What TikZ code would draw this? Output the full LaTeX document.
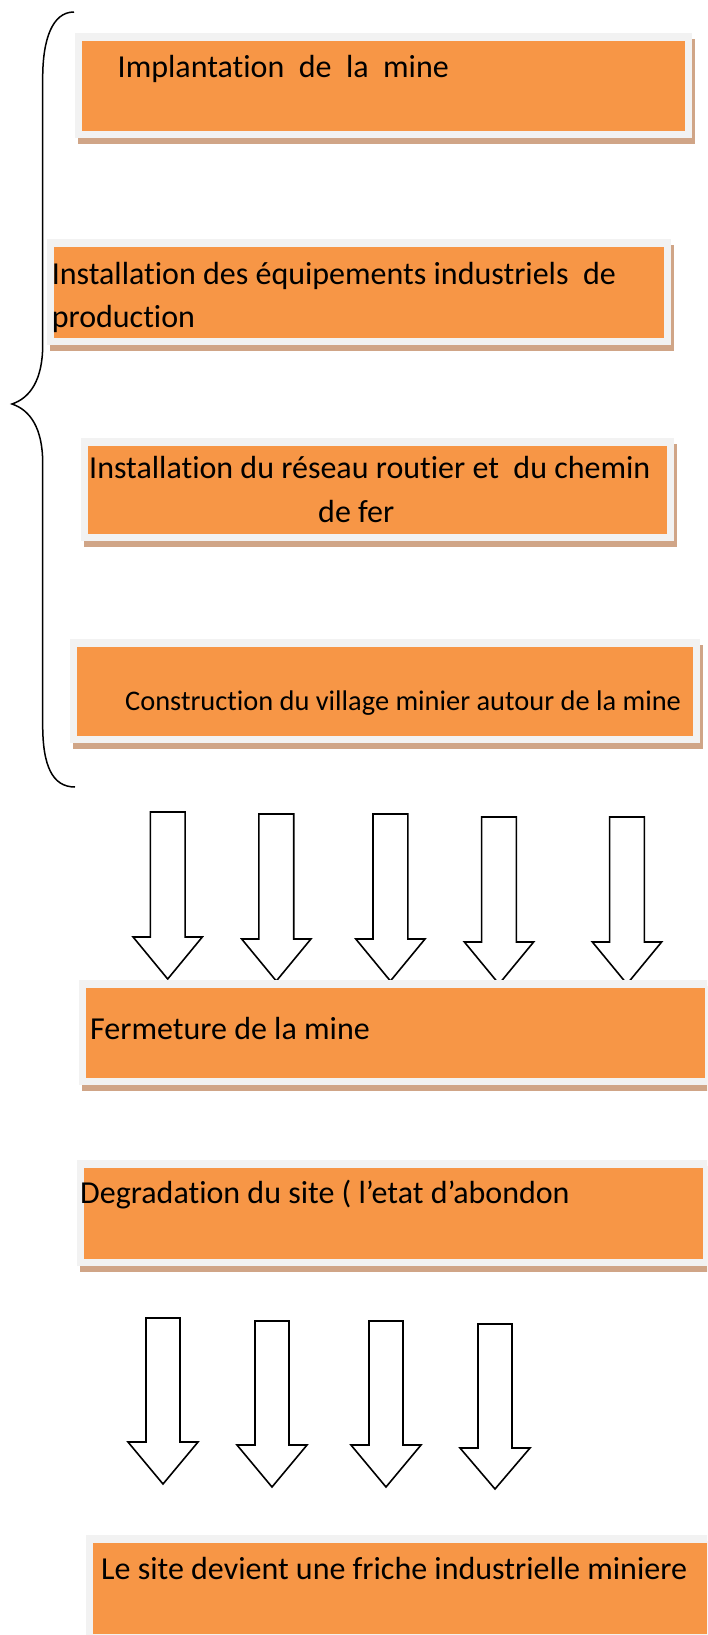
\documentclass[tikz,border=0pt]{standalone}
\usepackage{fontspec}
\setmainfont{Carlito}[Ligatures={NoCommon}]
\definecolor{boxorange}{RGB}{247,150,70}
\definecolor{framegray}{RGB}{242,242,242}
\definecolor{shadowtan}{RGB}{208,165,135}
\newcommand\flowbox[4]{%
  \fill[shadowtan] (#1+3,#2+6) rectangle (#3+3,#4+6);
  \fill[framegray] (#1,#2) rectangle (#3,#4);
  \fill[boxorange] (#1+7,#2+8) rectangle (#3-7,#4-7);}
\newcommand\blockarr[6]{% cx, top, headstart, tip, shaft half, head half
  \draw[blockarrow] (#1-#5,#2) -- (#1+#5,#2) -- (#1+#5,#3) -- (#1+#6,#3) -- (#1,#4)
    -- (#1-#6,#3) -- (#1-#5,#3) -- cycle;}
\tikzset{
  lbl/.style={anchor=base west, inner sep=0pt, font=\fontsize{32}{43}\selectfont},
  lblsmall/.style={anchor=base west, inner sep=0pt, font=\fontsize{28.4}{38}\selectfont},
  blockarrow/.style={draw=black, fill=white, line width=1.6pt, line join=miter},
  bracestyle/.style={draw=black, line width=1.5pt}
}
\begin{document}
\begin{tikzpicture}[x=1pt,y=-1pt]
\useasboundingbox (0,0) rectangle (707,1635);
\clip (0,0) rectangle (707,1635);
\fill[white] (0,0) rectangle (707,1635);

% brace
\draw[bracestyle] (74,12) .. controls (52,12) and (42.7,40) .. (42.7,78)
  -- (42.7,345) .. controls (42.7,380) and (30,398) .. (12,404)
  .. controls (30,410) and (42.7,428) .. (42.7,463)
  -- (42.7,725) .. controls (42.7,765) and (52,787) .. (75,787);

% arrows (first set)
\blockarr{167.7}{812}{937}{979}{17.4}{34.6}
\blockarr{276.3}{814}{939}{981}{17.4}{34.6}
\blockarr{390.4}{814}{939}{981}{17.4}{34.6}
\blockarr{499}{817}{942}{984}{17.4}{34.6}
\blockarr{627}{817}{942}{984}{17.4}{34.6}

% arrows (second set)
\blockarr{163}{1318}{1442}{1484}{17}{35}
\blockarr{272}{1321}{1445}{1487}{17}{35}
\blockarr{386}{1321}{1445}{1487}{17}{35}
\blockarr{495}{1324}{1448}{1489}{17}{35}

% boxes
\flowbox{75}{33}{692}{138}
\flowbox{47}{239}{671}{345}
\flowbox{81}{438}{674}{541}
\flowbox{70}{639}{700}{743}
\flowbox{79}{980}{712}{1085}
\flowbox{77}{1160}{710}{1266}
\flowbox{86}{1535}{714}{1641}

% texts
\node[lbl] (t1) at (117.5,78) {Implantation\ \ de\ \ la\ \ mine};
\node[lbl] (t2a) at (51.6,284) {Installation des équipements industriels\ \ de};
\node[lbl] (t2b) at (51.6,327) {production};
\node[lbl] (t3a) at (89,478) {Installation du réseau routier et\ \ du chemin};
\node[lbl] (t3b) at (318,522) {de fer};
\node[lblsmall] (t4) at (125,710) {Construction du village minier autour de la mine};
\node[lbl] (t5) at (90,1039) {Fermeture de la mine};
\node[lbl] (t6) at (80,1203) {Degradation du site ( l’etat d’abondon};
\node[lbl] (t7) at (101,1579) {Le site devient une friche industrielle miniere};
\end{tikzpicture}
\end{document}
